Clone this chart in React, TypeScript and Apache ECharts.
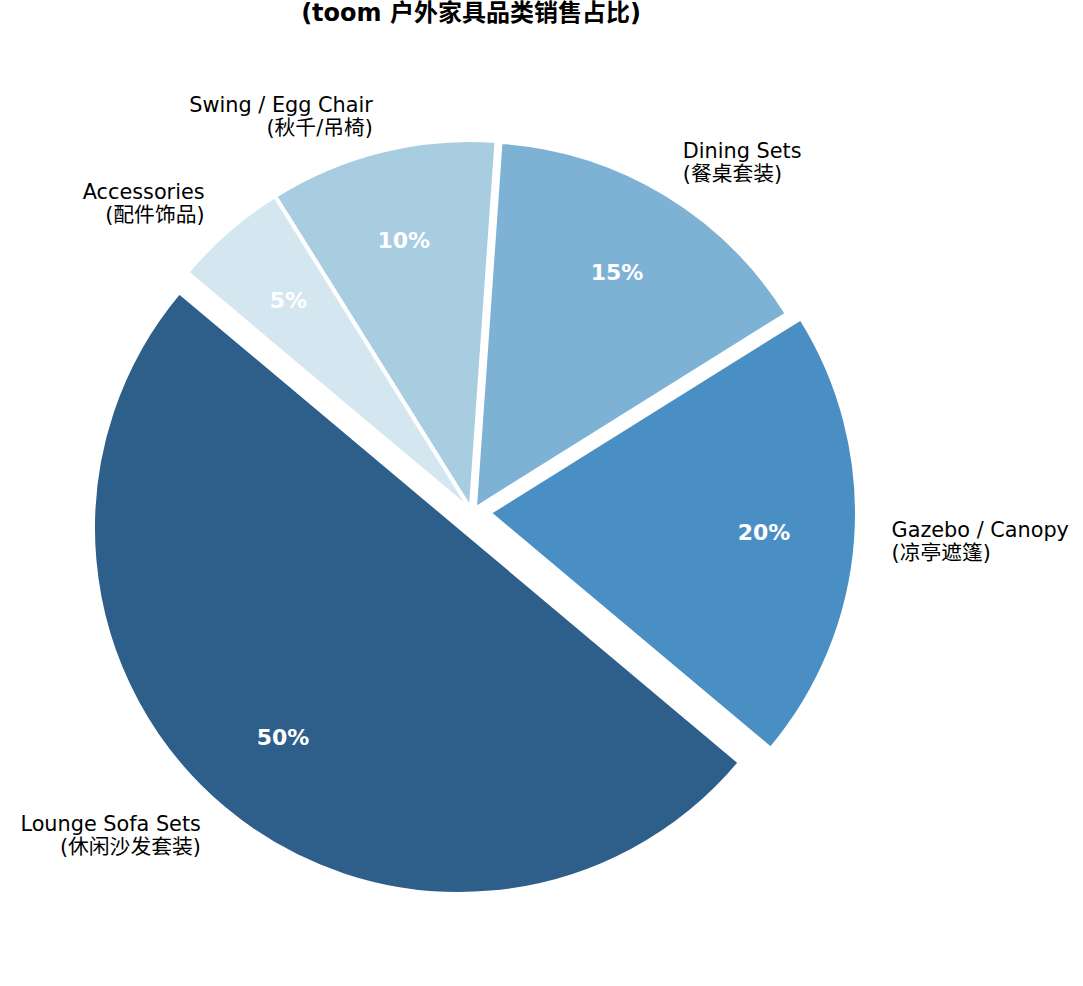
import React, { useEffect, useRef } from "react";
import * as echarts from "echarts";

const categories = [
  "Lounge Sofa Sets\n(休闲沙发套装)",
  "Gazebo / Canopy\n(凉亭遮篷)",
  "Dining Sets\n(餐桌套装)",
  "Swing / Egg Chair\n(秋千/吊椅)",
  "Accessories\n(配件饰品)",
];
const shares = [50, 20, 15, 10, 5];
const colors = ["#2d5f8a", "#4a8fc4", "#7db2d5", "#a8cce0", "#d4e7f0"];
const titleText = "(toom 户外家具品类销售占比)";

// pixel offset of each exploded slice (style)
const explodeOffsets = [
  [-11, 22],
  [21, 7],
  [6, 1],
  [0, 0],
  [-2, 1],
];

const CX = 470;
const CY = 506;
const R = 365;
const FONT = '"DejaVu Sans", "Noto Sans CJK SC", sans-serif';
const TRANSPARENT = "rgba(0,0,0,0)";

function buildOption() {
  const series: any[] = [];
  categories.forEach((_, i) => {
    const center = [CX + explodeOffsets[i][0], CY + explodeOffsets[i][1]];
    // visible wedge + outer name label
    series.push({
      type: "pie",
      center,
      radius: [0, R],
      startAngle: 140,
      clockwise: false,
      avoidLabelOverlap: false,
      silent: true,
      percentPrecision: 0,
      z: 2,
      data: categories.map((name, j) => ({
        name,
        value: shares[j],
        itemStyle:
          j === i
            ? { color: colors[j], borderColor: "#ffffff", borderWidth: 2 }
            : { color: TRANSPARENT, borderWidth: 0 },
        label:
          j === i
            ? {
                show: true,
                position: "outside",
                formatter: "{b}",
                distanceToLabelLine: 0,
                color: "#000",
                fontFamily: FONT,
                fontSize: 20.8,
                lineHeight: 23,
              }
            : { show: false },
        labelLine: {
          show: j === i,
          length: R * 0.1,
          length2: 0,
          lineStyle: { opacity: 0, width: 0 },
        },
      })),
    });
    // percentage label at 0.75 R
    series.push({
      type: "pie",
      center,
      radius: [R * 0.5 - 6, R],
      startAngle: 140,
      clockwise: false,
      avoidLabelOverlap: false,
      silent: true,
      percentPrecision: 0,
      z: 3,
      data: categories.map((name, j) => ({
        name,
        value: shares[j],
        itemStyle: { color: TRANSPARENT, borderWidth: 0 },
        label:
          j === i
            ? {
                show: true,
                position: "inside",
                formatter: "{d}%",
                color: "#ffffff",
                fontFamily: FONT,
                fontWeight: "bold",
                fontSize: 22,
              }
            : { show: false },
        labelLine: { show: false },
      })),
    });
  });

  return {
    animation: false,
    backgroundColor: "#ffffff",
    graphic: [
      {
        type: "text",
        x: 471,
        y: 13,
        style: {
          text: titleText,
          fill: "#000",
          font: `bold 24px ${FONT}`,
          textAlign: "center",
          textVerticalAlign: "middle",
        },
      },
    ],
    series,
  };
}

export default function App() {
  const ref = useRef<HTMLDivElement>(null);
  useEffect(() => {
    if (!ref.current) return;
    const chart = echarts.init(ref.current, null, { renderer: "svg" });
    chart.setOption(buildOption() as any);
    return () => chart.dispose();
  }, []);
  return (
    <div
      ref={ref}
      style={{ position: "fixed", left: 0, top: 0, width: 1083, height: 986 }}
    />
  );
}
